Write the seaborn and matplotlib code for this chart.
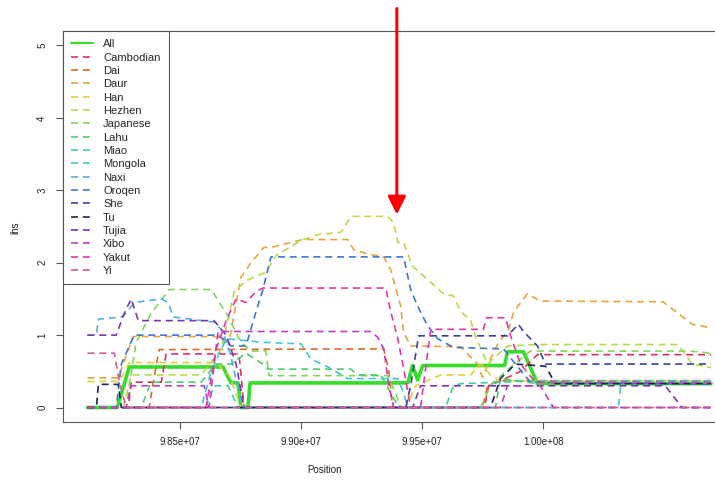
import matplotlib
matplotlib.use("Agg")
import matplotlib.pyplot as plt
import seaborn as sns
import pandas as pd
from matplotlib.lines import Line2D

sns.set_theme(style="white")
plt.rcParams['font.family'] = ['Liberation Sans', 'DejaVu Sans']

# Positions in Mb, iHS values per population
pos_all = [98.117, 98.240, 98.290, 98.677, 98.710, 98.739, 98.751, 98.780, 98.789, 99.440, 99.460, 99.481, 99.502, 99.840, 99.852, 99.918, 99.976, 100.693]
ihs_all = [0, 0, 0.56, 0.56, 0.34, 0.34, 0, 0, 0.34, 0.34, 0.58, 0.38, 0.58, 0.58, 0.77, 0.77, 0.33, 0.33]

pos_cambodian = [98.117, 98.286, 98.298, 98.422, 98.442, 98.743, 98.764, 99.757, 99.774, 99.811, 99.906, 99.976, 100.693]
ihs_cambodian = [0, 0, 0.35, 0.35, 0.74, 0.74, 0, 0, 0.30, 0.35, 0.50, 0.73, 0.73]

pos_dai = [98.117, 98.372, 98.389, 98.413, 99.341, 99.362, 99.378, 99.749, 99.770, 99.811, 100.693]
ihs_dai = [0, 0, 0.35, 0.80, 0.81, 0.50, 0, 0, 0.30, 0.37, 0.37]

pos_daur = [98.117, 98.244, 98.306, 98.657, 98.702, 98.751, 98.793, 98.846, 98.887, 99.007, 99.192, 99.217, 99.275, 99.341, 99.370, 99.411, 99.423, 99.452, 99.658, 99.728, 99.749, 99.782, 99.815, 99.856, 99.877, 99.934, 99.988, 100.495, 100.615, 100.693]
ihs_daur = [0.41, 0.41, 0.98, 0.98, 0.90, 1.80, 2.00, 2.21, 2.22, 2.32, 2.32, 2.18, 2.12, 2.08, 1.90, 1.40, 1.04, 0.85, 0.84, 0.60, 0.42, 0.67, 0.90, 1.06, 1.32, 1.57, 1.47, 1.46, 1.15, 1.10]

pos_han = [98.117, 98.249, 98.290, 98.648, 98.702, 98.751, 99.432, 99.473, 99.576, 99.700, 99.741, 99.782, 99.823, 100.693]
ihs_han = [0.36, 0.36, 0.62, 0.62, 0.45, 0, 0, 0.30, 0.45, 0.45, 0.60, 0.45, 0.37, 0.37]

pos_hezhen = [98.117, 98.265, 98.298, 98.587, 98.669, 98.723, 98.772, 98.854, 98.896, 99.007, 99.073, 99.164, 99.205, 99.357, 99.382, 99.399, 99.423, 99.460, 99.522, 99.588, 99.629, 99.658, 99.700, 99.720, 99.770, 99.852, 99.976, 100.557, 100.615, 100.693]
ihs_hezhen = [0, 0, 0.45, 0.45, 0.80, 1.60, 1.75, 1.87, 2.10, 2.32, 2.39, 2.42, 2.64, 2.64, 2.55, 2.28, 2.28, 1.95, 1.77, 1.57, 1.54, 1.33, 1.20, 0.98, 0.60, 0.85, 0.87, 0.87, 0.60, 0.55]

pos_japanese = [98.117, 98.277, 98.318, 98.380, 98.455, 98.628, 98.698, 98.751, 98.793, 98.854, 98.867, 99.357, 99.390, 99.411, 99.741, 99.782, 99.844, 99.947, 100.606, 100.693]
ihs_japanese = [0, 0, 0.90, 1.30, 1.63, 1.63, 1.26, 0.90, 0.78, 0.78, 0.44, 0.44, 0.20, 0, 0, 0.30, 0.50, 0.78, 0.78, 0.75]

pos_lahu = [98.117, 98.339, 98.380, 98.587, 98.648, 98.710, 98.772, 98.842, 98.863, 99.205, 99.234, 99.329, 99.370, 99.403, 99.802, 99.823, 99.976, 100.693]
ihs_lahu = [0, 0, 0.35, 0.35, 0.60, 0.60, 0.75, 0.60, 0.53, 0.53, 0.45, 0.45, 0.20, 0, 0, 0.40, 0.33, 0.33]

pos_miao = [98.117, 98.607, 98.640, 98.698, 98.739, 99.596, 99.629, 99.658, 99.988, 100.693]
ihs_miao = [0, 0, 0.30, 0.30, 0, 0, 0.30, 0.33, 0.37, 0.37]

pos_mongola = [98.117, 98.587, 98.628, 98.690, 98.842, 98.999, 99.040, 99.110, 99.192, 99.399, 99.423, 99.440, 100.310, 100.322, 100.693]
ihs_mongola = [0, 0, 0.50, 0.95, 0.90, 0.88, 0.67, 0.56, 0.40, 0.40, 0.20, 0, 0, 0.36, 0.36]

pos_naxi = [98.117, 98.154, 98.162, 98.257, 98.277, 98.310, 98.422, 98.451, 98.471, 98.640, 98.677, 98.710, 98.743, 98.764, 100.693]
ihs_naxi = [1.00, 1.00, 1.22, 1.25, 1.30, 1.45, 1.50, 1.45, 1.25, 1.18, 1.05, 0.70, 0.20, 0, 0]

pos_oroqen = [98.117, 98.236, 98.257, 98.310, 98.657, 98.710, 98.772, 98.813, 98.842, 98.875, 99.423, 99.452, 99.481, 99.522, 99.564, 99.629, 99.836, 99.885, 99.947, 100.693]
ihs_oroqen = [0, 0, 0.60, 1.00, 1.00, 0.85, 0.85, 1.32, 1.63, 2.08, 2.08, 1.63, 1.40, 1.13, 0.95, 0.83, 0.81, 0.60, 0.35, 0.32]

pos_she = [98.117, 99.432, 99.452, 99.485, 99.852, 99.897, 99.918, 99.976, 100.009, 100.606, 100.693]
ihs_she = [0, 0, 0.30, 0.99, 0.99, 1.15, 1.05, 0.85, 0.60, 0.60, 0.60]

pos_tu = [98.117, 98.154, 98.162, 98.244, 98.257, 99.782, 99.823, 99.885, 100.009, 100.050, 100.693]
ihs_tu = [0, 0, 0.32, 0.32, 0, 0, 0.40, 0.60, 0.57, 0.33, 0.33]

pos_tujia = [98.117, 98.236, 98.269, 98.298, 98.327, 98.640, 98.690, 98.731, 98.764, 99.460, 99.493, 100.504, 100.573, 100.693]
ihs_tujia = [1.00, 1.00, 1.30, 1.50, 1.20, 1.20, 1.00, 0.60, 0, 0, 0.30, 0.30, 0, 0]

pos_xibo = [98.117, 98.277, 98.298, 98.599, 98.620, 98.640, 98.657, 99.287, 99.316, 99.341, 99.362, 99.382, 99.823, 99.852, 99.988, 100.042, 100.693]
ihs_xibo = [0, 0, 0.30, 0.30, 0, 0.60, 1.05, 1.05, 0.97, 0.81, 0.30, 0, 0, 0.30, 0.30, 0, 0]

pos_yakut = [98.117, 98.607, 98.648, 98.690, 98.731, 98.772, 98.813, 98.842, 99.349, 99.370, 99.399, 99.423, 99.452, 99.493, 99.535, 99.753, 99.765, 99.844, 99.864, 99.906, 99.967, 100.693]
ihs_yakut = [0, 0, 0.80, 1.20, 1.50, 1.45, 1.60, 1.65, 1.65, 1.32, 0.95, 0.54, 0, 0, 1.08, 1.08, 1.24, 1.24, 1.00, 0.60, 0.35, 0.35]

pos_yi = [98.117, 98.228, 98.249, 98.277, 100.693]
ihs_yi = [0.75, 0.75, 0.35, 0, 0]

populations = ["All", "Cambodian", "Dai", "Daur", "Han", "Hezhen", "Japanese", "Lahu",
               "Miao", "Mongola", "Naxi", "Oroqen", "She", "Tu", "Tujia", "Xibo", "Yakut", "Yi"]
colors = ["#33DD2A", "#E0305A", "#E06A2A", "#E8A53A", "#E0D03A", "#B5DB4A", "#7ED957", "#4CCB6E",
          "#3CCFA0", "#3CC9D5", "#55AEE3", "#3E78CC", "#3A42A0", "#1E2266", "#7A35B0", "#C03EC0",
          "#E03AA8", "#D95C8A"]
series = {
    "All": (pos_all, ihs_all), "Cambodian": (pos_cambodian, ihs_cambodian),
    "Dai": (pos_dai, ihs_dai), "Daur": (pos_daur, ihs_daur), "Han": (pos_han, ihs_han),
    "Hezhen": (pos_hezhen, ihs_hezhen), "Japanese": (pos_japanese, ihs_japanese),
    "Lahu": (pos_lahu, ihs_lahu), "Miao": (pos_miao, ihs_miao),
    "Mongola": (pos_mongola, ihs_mongola), "Naxi": (pos_naxi, ihs_naxi),
    "Oroqen": (pos_oroqen, ihs_oroqen), "She": (pos_she, ihs_she), "Tu": (pos_tu, ihs_tu),
    "Tujia": (pos_tujia, ihs_tujia), "Xibo": (pos_xibo, ihs_xibo),
    "Yakut": (pos_yakut, ihs_yakut), "Yi": (pos_yi, ihs_yi),
}

xtick_values = [9.85e7, 9.90e7, 9.95e7, 1.00e8]
xtick_labels = ["9.85e+07", "9.90e+07", "9.95e+07", "1.00e+08"]
ytick_values = [0, 1, 2, 3, 4, 5]
marked_position = 99.395e6
marked_ihs = 2.665

frames = []
for name in populations:
    p, v = series[name]
    frames.append(pd.DataFrame({"Position": [x * 1e6 for x in p], "ihs": v, "Population": name}))
df = pd.concat(frames, ignore_index=True)

dash = (0, (4.2, 2.9))
fig = plt.figure(figsize=(7.15, 4.8), dpi=100)
ax = fig.add_axes([62.5 / 715, 58 / 480, 673.5 / 715, 391 / 480])

for name, col in zip(populations, colors):
    sub = df[df["Population"] == name]
    if name == "All":
        sns.lineplot(data=sub, x="Position", y="ihs", color=col, lw=2.6,
                     estimator=None, sort=False, ax=ax, legend=False)
    else:
        sns.lineplot(data=sub, x="Position", y="ihs", color=col, lw=1.2, linestyle=dash,
                     estimator=None, sort=False, ax=ax, legend=False)

xmin, xmax = df["Position"].min(), df["Position"].max()
pad = 0.04 * (xmax - xmin)
ax.set_xlim(xmin - pad, xmax + pad)
ax.set_ylim(-0.2, 5.2)
ax.set_xticks(xtick_values)
ax.set_xticklabels(xtick_labels)
ax.set_yticks(ytick_values)
ax.set_yticklabels([str(t) for t in ytick_values], rotation=90, va="center")
ax.set_xlabel("")
ax.set_ylabel("")
ax.tick_params(direction="out", length=5, width=0.8, color="#555555",
               labelsize=7, labelcolor="#222222", pad=6)
ax.tick_params(axis="x", bottom=True)
ax.tick_params(axis="y", left=True)
for s in ax.spines.values():
    s.set_color("#555555")
    s.set_linewidth(0.8)

fig.text(324 / 715, 1 - 470 / 480, "Position", ha="center", va="center", fontsize=7, color="#222222")
fig.text(15 / 715, 1 - 228 / 480, "ihs", ha="center", va="center", rotation=90, fontsize=7, color="#222222")

handles = []
for name, col in zip(populations, colors):
    if name == "All":
        handles.append(Line2D([0], [0], color=col, lw=1.5))
    else:
        handles.append(Line2D([0], [0], color=col, lw=1.2, linestyle=dash))
leg = ax.legend(handles, populations, loc="upper left", bbox_to_anchor=(0, 1),
                borderaxespad=0, fontsize=8, handlelength=2.0, handletextpad=0.9,
                labelspacing=0.3, borderpad=0.75, fancybox=False, framealpha=1,
                edgecolor="#555555")
leg.get_frame().set_linewidth(0.8)

ax.annotate("", xy=(marked_position, marked_ihs), xytext=(marked_position, 5.51),
            arrowprops=dict(arrowstyle="-|>,head_length=0.54,head_width=0.27",
                            color="red", lw=2.2, shrinkA=0, shrinkB=0, mutation_scale=20),
            annotation_clip=False)

fig.savefig("out.png", dpi=100)
